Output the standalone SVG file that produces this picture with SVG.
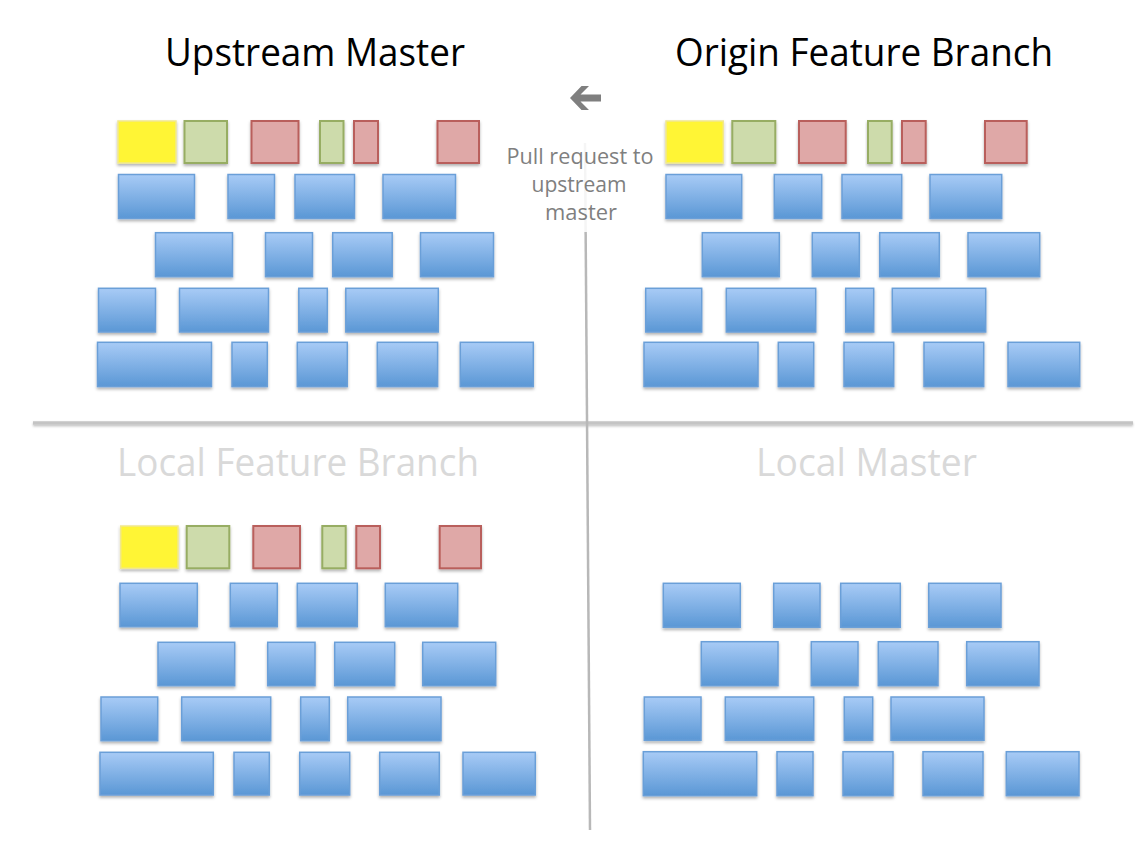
<svg xmlns="http://www.w3.org/2000/svg" width="1148" height="848" viewBox="0 0 1148 848">
<defs>
<linearGradient id="blueGrad" x1="0" y1="0" x2="0" y2="1">
<stop offset="0" stop-color="#a8cbf6"/>
<stop offset="1" stop-color="#5a97d5"/>
</linearGradient>
<filter id="shadow" x="-10%" y="-10%" width="130%" height="140%">
<feDropShadow dx="0" dy="2" stdDeviation="1.4" flood-color="#000" flood-opacity="0.3"/>
</filter>
<filter id="lineShadow" filterUnits="userSpaceOnUse" x="0" y="410" width="1148" height="30">
<feDropShadow dx="0" dy="1.5" stdDeviation="1.2" flood-color="#000" flood-opacity="0.25"/>
</filter>
</defs>
<style>
.b{fill:url(#blueGrad);stroke:#6b9fd8;stroke-width:1.5;filter:url(#shadow)}
.y{fill:#fff536;stroke:#f1e88e;stroke-width:1.5;filter:url(#shadow)}
.g{fill:#cddbab;stroke:#97ad63;stroke-width:2;filter:url(#shadow)}
.r{fill:#dfa8a7;stroke:#b95e5b;stroke-width:2;filter:url(#shadow)}
.title{font-family:"Open Sans","Noto Sans","Liberation Sans",sans-serif;font-size:38px;fill:#000;text-anchor:middle}
.sub{font-family:"Open Sans","Noto Sans","Liberation Sans",sans-serif;font-size:38px;fill:#d9d9d9;text-anchor:middle}
.note{font-family:"Open Sans","Noto Sans","Liberation Sans",sans-serif;font-size:21px;fill:#7f7f7f;text-anchor:middle}
</style>
<rect width="1148" height="848" fill="#ffffff"/>

<g id="connectors">
<line x1="33" y1="423" x2="1133" y2="423" stroke="#c4c4c4" stroke-width="3.5" filter="url(#lineShadow)"/>
<line x1="585" y1="143" x2="590" y2="830" stroke="#b8b8b8" stroke-width="2.5"/>
<rect x="500" y="140" width="160" height="92" fill="#ffffff" opacity="0.85"/>
<polygon id="arrow" points="570,98 581.5,86 589,86 580.5,94.5 601,94.5 601,101.5 580.5,101.5 589,110 581.5,110" fill="#7f7f7f"/>
</g>

<g id="labels">
<text class="title" x="315" y="66" textLength="300" lengthAdjust="spacingAndGlyphs">Upstream Master</text>
<text class="title" x="864" y="66" textLength="378" lengthAdjust="spacingAndGlyphs">Origin Feature Branch</text>
<text class="sub" x="298" y="476" textLength="362" lengthAdjust="spacingAndGlyphs">Local Feature Branch</text>
<text class="sub" x="866.5" y="476" textLength="221" lengthAdjust="spacingAndGlyphs">Local Master</text>
<text class="note" x="580" y="164" textLength="147" lengthAdjust="spacingAndGlyphs">Pull request to</text>
<text class="note" x="579" y="192" textLength="95" lengthAdjust="spacingAndGlyphs">upstream</text>
<text class="note" x="581" y="220" textLength="72" lengthAdjust="spacingAndGlyphs">master</text>
</g>

<g id="upstream-master">
<rect class="y" x="118" y="121" width="58" height="42"/>
<rect class="g" x="184.5" y="121" width="42.5" height="42"/>
<rect class="r" x="251.5" y="121" width="47" height="42"/>
<rect class="g" x="320" y="121" width="23.5" height="42"/>
<rect class="r" x="354" y="121" width="24" height="42"/>
<rect class="r" x="437.5" y="121" width="41.5" height="42"/>
<rect class="b" x="118.5" y="174.5" width="76" height="44"/>
<rect class="b" x="228" y="174.5" width="46.5" height="44"/>
<rect class="b" x="295" y="174.5" width="59.5" height="44"/>
<rect class="b" x="383" y="174.5" width="72.5" height="44"/>
<rect class="b" x="155.5" y="232.7" width="77" height="44"/>
<rect class="b" x="265.5" y="232.7" width="47" height="44"/>
<rect class="b" x="332.7" y="232.7" width="59.5" height="44"/>
<rect class="b" x="420.5" y="232.7" width="73" height="44"/>
<rect class="b" x="98.5" y="288.3" width="57" height="43.7"/>
<rect class="b" x="179.5" y="288.3" width="89" height="43.7"/>
<rect class="b" x="298.8" y="288.3" width="28.5" height="43.7"/>
<rect class="b" x="345.8" y="288.3" width="92.5" height="43.7"/>
<rect class="b" x="97.5" y="342.3" width="114" height="44.3"/>
<rect class="b" x="232" y="342.3" width="35.3" height="44.3"/>
<rect class="b" x="297.3" y="342.3" width="50" height="44.3"/>
<rect class="b" x="377.3" y="342.3" width="60.3" height="44.3"/>
<rect class="b" x="460.3" y="342.3" width="73" height="44.3"/>
</g>

<g id="origin-feature-branch">
<rect class="y" x="666" y="121" width="57.3" height="42"/>
<rect class="g" x="732.3" y="121" width="43" height="42"/>
<rect class="r" x="799" y="121" width="46.7" height="42"/>
<rect class="g" x="868" y="121" width="23.7" height="42"/>
<rect class="r" x="902" y="121" width="23.7" height="42"/>
<rect class="r" x="985" y="121" width="41.7" height="42"/>
<rect class="b" x="666" y="174.5" width="75.7" height="44"/>
<rect class="b" x="774.3" y="174.5" width="47.4" height="44"/>
<rect class="b" x="842" y="174.5" width="59.7" height="44"/>
<rect class="b" x="930" y="174.5" width="71.7" height="44"/>
<rect class="b" x="702.3" y="232.7" width="77" height="44"/>
<rect class="b" x="812.3" y="232.7" width="47" height="44"/>
<rect class="b" x="879.7" y="232.7" width="59.6" height="44"/>
<rect class="b" x="968" y="232.7" width="71.7" height="44"/>
<rect class="b" x="645.7" y="288.3" width="56" height="43.7"/>
<rect class="b" x="726.3" y="288.3" width="89.4" height="43.7"/>
<rect class="b" x="845.7" y="288.3" width="28" height="43.7"/>
<rect class="b" x="892.3" y="288.3" width="93.4" height="43.7"/>
<rect class="b" x="644" y="342.3" width="114" height="44.3"/>
<rect class="b" x="778.3" y="342.3" width="35.4" height="44.3"/>
<rect class="b" x="844" y="342.3" width="49.7" height="44.3"/>
<rect class="b" x="924" y="342.3" width="59.7" height="44.3"/>
<rect class="b" x="1008" y="342.3" width="71.7" height="44.3"/>
</g>

<g id="local-feature-branch">
<rect class="y" x="120.7" y="526" width="57.3" height="42.3"/>
<rect class="g" x="186.7" y="526" width="42.6" height="42.3"/>
<rect class="r" x="253.3" y="526" width="46.7" height="42.3"/>
<rect class="g" x="322.3" y="526" width="23.4" height="42.3"/>
<rect class="r" x="356.3" y="526" width="23.7" height="42.3"/>
<rect class="r" x="439.7" y="526" width="41.3" height="42.3"/>
<rect class="b" x="120" y="583.3" width="77.3" height="43.4"/>
<rect class="b" x="230.3" y="583.3" width="47" height="43.4"/>
<rect class="b" x="297.3" y="583.3" width="60" height="43.4"/>
<rect class="b" x="385.3" y="583.3" width="72.4" height="43.4"/>
<rect class="b" x="158" y="642.3" width="76.7" height="43.4"/>
<rect class="b" x="267.7" y="642.3" width="47.3" height="43.4"/>
<rect class="b" x="334.7" y="642.3" width="60" height="43.4"/>
<rect class="b" x="422.7" y="642.3" width="73" height="43.4"/>
<rect class="b" x="101" y="697" width="56.7" height="43.7"/>
<rect class="b" x="181.7" y="697" width="89" height="43.7"/>
<rect class="b" x="300.7" y="697" width="28.6" height="43.7"/>
<rect class="b" x="347.7" y="697" width="93.3" height="43.7"/>
<rect class="b" x="100" y="752.3" width="113.3" height="42.7"/>
<rect class="b" x="234" y="752.3" width="35.3" height="42.7"/>
<rect class="b" x="299.7" y="752.3" width="50" height="42.7"/>
<rect class="b" x="379.7" y="752.3" width="59.6" height="42.7"/>
<rect class="b" x="463" y="752.3" width="72.3" height="42.7"/>
</g>

<g id="local-master">
<rect class="b" x="663.3" y="583.3" width="77" height="44"/>
<rect class="b" x="773.7" y="583.3" width="46.3" height="44"/>
<rect class="b" x="840.7" y="583.3" width="59.6" height="44"/>
<rect class="b" x="928.7" y="583.3" width="72.3" height="44"/>
<rect class="b" x="701.3" y="641.7" width="76.7" height="44"/>
<rect class="b" x="811.3" y="641.7" width="46.7" height="44"/>
<rect class="b" x="878.3" y="641.7" width="59.7" height="44"/>
<rect class="b" x="966.7" y="641.7" width="72.3" height="44"/>
<rect class="b" x="644.3" y="697" width="56.7" height="43.3"/>
<rect class="b" x="725.3" y="697" width="88.4" height="43.3"/>
<rect class="b" x="844.3" y="697" width="28.4" height="43.3"/>
<rect class="b" x="891" y="697" width="93" height="43.3"/>
<rect class="b" x="643.3" y="751.7" width="113.4" height="44"/>
<rect class="b" x="777" y="751.7" width="36" height="44"/>
<rect class="b" x="843" y="751.7" width="50" height="44"/>
<rect class="b" x="923" y="751.7" width="60" height="44"/>
<rect class="b" x="1006.3" y="751.7" width="72.7" height="44"/>
</g>
</svg>
